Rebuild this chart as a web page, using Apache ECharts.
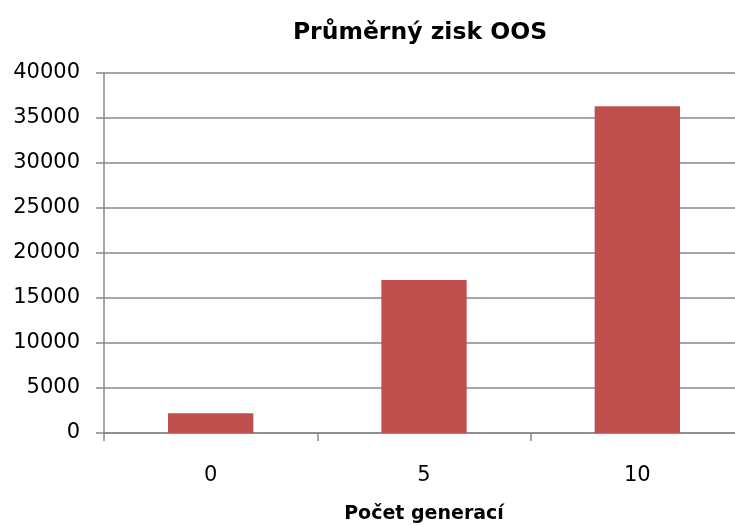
<!DOCTYPE html>
<html>
<head>
<meta charset="utf-8">
<script src="https://cdn.jsdelivr.net/npm/echarts@6/dist/echarts.min.js"></script>
<style>
  html, body { margin: 0; padding: 0; background: #fff; }
  #chart { width: 735px; height: 525px; }
</style>
</head>
<body>
<div id="chart"></div>
<script>
const FONT_FAMILY = "'DejaVu Sans', 'Noto Sans', sans-serif"
const TITLE = 'Průměrný zisk OOS'
const X_NAME = 'Počet generací'
const categories = ['0', '5', '10']
const values = [2200, 17000, 36300]

const chart = echarts.init(document.getElementById('chart'))

chart.setOption({
  animation: false,
  title: {
    text: TITLE,
    left: 415,
    top: 16,
    textAlign: 'center',
    textStyle: { fontFamily: FONT_FAMILY, fontSize: 23.5, fontWeight: 'bold', color: '#000' },
  },
  grid: { left: 104, top: 73, width: 640, height: 360, containLabel: false, outerBoundsMode: 'none' },
  xAxis: {
    type: 'category',
    data: categories,
    name: X_NAME,
    nameLocation: 'middle',
    nameGap: 72,
    nameTextStyle: { fontFamily: FONT_FAMILY, fontSize: 19, fontWeight: 'bold', color: '#000' },
    axisLine: { lineStyle: { color: '#888', width: 1.5 } },
    axisTick: { show: true, alignWithLabel: false, length: 8, lineStyle: { color: '#888', width: 1.5 } },
    axisLabel: { fontFamily: FONT_FAMILY, fontSize: 21, color: '#000', margin: 32 },
  },
  yAxis: {
    type: 'value',
    min: 0,
    max: 40000,
    interval: 5000,
    axisLine: { show: true, lineStyle: { color: '#888', width: 1.5 } },
    axisTick: { show: true, length: 8, lineStyle: { color: '#888', width: 1.5 } },
    axisLabel: { fontFamily: FONT_FAMILY, fontSize: 21, color: '#000', margin: 24, formatter: v => String(v) },
    splitLine: { lineStyle: { color: '#888', width: 1.5 } },
  },
  series: [{
    type: 'bar',
    data: values,
    barWidth: '40%',
    itemStyle: { color: '#C0504D' },
  }],
})
</script>
</body>
</html>
